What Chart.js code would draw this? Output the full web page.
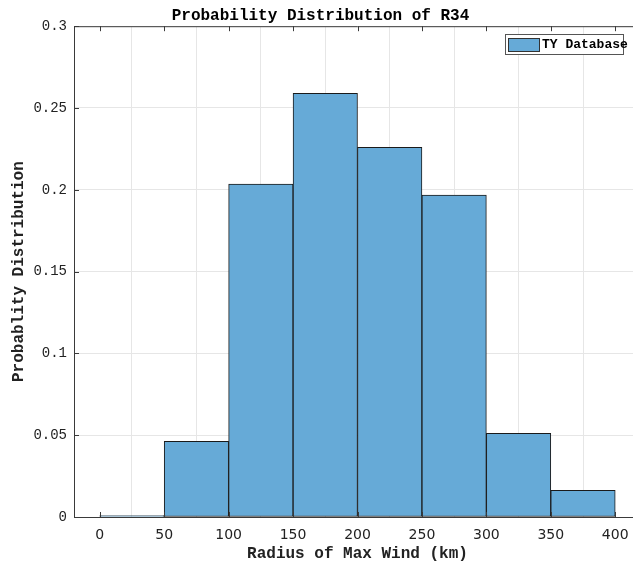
<!DOCTYPE html>
<html>
<head>
<meta charset="utf-8">
<script src="https://cdn.jsdelivr.net/npm/chart.js@4"></script>
<style>
  html, body { margin: 0; padding: 0; background: #fff; overflow: hidden; }
  #wrap { width: 633px; height: 567px; overflow: hidden; }
</style>
</head>
<body>
<div id="wrap"><canvas id="grafico" width="645" height="567"></canvas></div>
<script>
// histogram bins (km) and probabilities
const binCenters = [25, 75, 125, 175, 225, 275, 325, 375];
const probValues = [0.0008, 0.0463, 0.2035, 0.259, 0.226, 0.1967, 0.0512, 0.0163];
const xTicks = [0, 50, 100, 150, 200, 250, 300, 350, 400];
const yTicks = [0, 0.05, 0.1, 0.15, 0.2, 0.25, 0.3];
const serieNome = "TY Database";

const corBarra = "#66aad7";
const mono = "'Liberation Mono', 'DejaVu Sans Mono', monospace";

// legenda + moldura + marcas internas, estilo matlab
const extras = {
    id: "extras",
    afterDraw(chart) {
        const c = chart.ctx;
        const a = chart.chartArea;
        const sx = chart.scales.x, sy = chart.scales.y;
        c.save();
        c.strokeStyle = "#3a3a3a";
        c.lineWidth = 1;
        c.beginPath();
        c.moveTo(a.left, a.top + 0.5);
        c.lineTo(a.right, a.top + 0.5);
        xTicks.forEach(v => {
            const px = Math.round(sx.getPixelForValue(v)) + 0.5;
            c.moveTo(px, a.bottom); c.lineTo(px, a.bottom - 5);
            c.moveTo(px, a.top); c.lineTo(px, a.top + 5);
        });
        yTicks.forEach(v => {
            const py = Math.round(sy.getPixelForValue(v)) + 0.5;
            c.moveTo(a.left, py); c.lineTo(a.left + 5, py);
        });
        c.stroke();

        // legenda
        const lx = 505, ly = 34, lw = 118, lh = 20;
        c.fillStyle = "#fff";
        c.fillRect(lx, ly, lw, lh);
        c.strokeStyle = "#555";
        c.strokeRect(lx + 0.5, ly + 0.5, lw, lh);
        c.fillStyle = corBarra;
        c.fillRect(lx + 3, ly + 4, 31, 13);
        c.strokeStyle = "#333";
        c.strokeRect(lx + 3.5, ly + 4.5, 31, 13);
        c.fillStyle = "#000";
        c.font = "bold 13px " + mono;
        c.textBaseline = "middle";
        c.textAlign = "left";
        c.fillText(chart.data.datasets[0].label, lx + 37, ly + lh / 2 + 1);
        c.restore();
    }
};

const ctx = document.getElementById("grafico").getContext("2d");

new Chart(ctx, {
    type: "bar",
    data: {
        datasets: [{
            label: serieNome,
            data: binCenters.map((x, i) => ({ x: x, y: probValues[i] })),
            backgroundColor: corBarra,
            borderColor: "#1a1a1a",
            borderWidth: 1,
            borderSkipped: false,
            barPercentage: 1,
            categoryPercentage: 1
        }]
    },
    options: {
        responsive: false,
        animation: false,
        layout: { padding: { top: 0, right: 4, bottom: 0, left: 0 } },
        plugins: {
            legend: { display: false },
            tooltip: { enabled: false },
            title: {
                display: true,
                text: "Probability Distribution of R34",
                color: "#000",
                font: { family: mono, size: 16, weight: "bold" },
                padding: { top: 6, bottom: 1 }
            }
        },
        scales: {
            x: {
                type: "linear",
                min: -20,
                max: 420,
                offset: false,
                afterBuildTicks: s => { s.ticks = xTicks.map(v => ({ value: v })); },
                afterFit: s => { s.height = 50; },
                ticks: {
                    color: "#222",
                    font: { family: "'DejaVu Sans', sans-serif", size: 14 },
                    padding: 10,
                    maxRotation: 0,
                    autoSkip: false
                },
                grid: { color: "#e6e6e6", drawTicks: false },
                border: { color: "#3a3a3a" },
                title: {
                    display: true,
                    text: "Radius of Max Wind (km)",
                    color: "#222",
                    font: { family: mono, size: 16, weight: "bold" },
                    padding: { top: 0, bottom: 3 }
                }
            },
            y: {
                min: 0,
                max: 0.3,
                afterBuildTicks: s => { s.ticks = yTicks.map(v => ({ value: v })); },
                afterFit: s => { s.width = 74; },
                ticks: {
                    color: "#222",
                    font: { family: mono, size: 14 },
                    padding: 7,
                    callback: v => String(Number(v.toFixed(2)))
                },
                grid: { color: "#e6e6e6", drawTicks: false },
                border: { color: "#3a3a3a" },
                title: {
                    display: true,
                    text: "Probablity Distribution",
                    color: "#222",
                    font: { family: mono, size: 16, weight: "bold" },
                    padding: { top: 9, bottom: 0 }
                }
            }
        }
    },
    plugins: [extras]
});
</script>
</body>
</html>
